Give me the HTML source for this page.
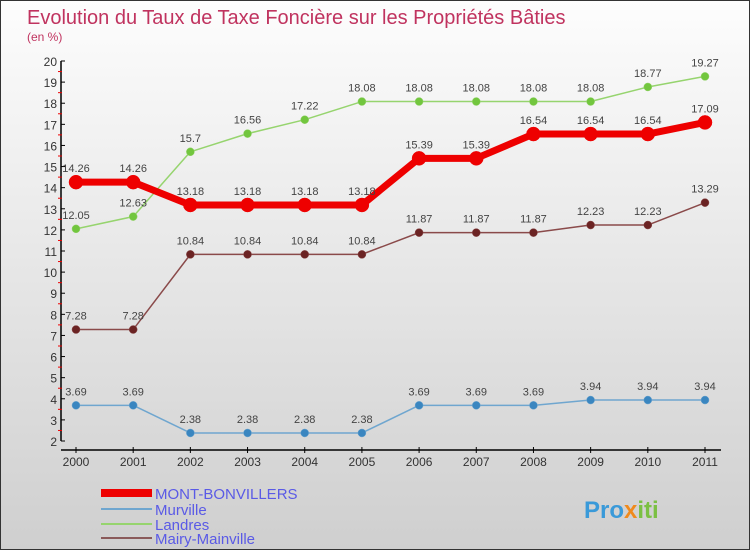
<!DOCTYPE html>
<html><head><meta charset="utf-8"><style>
body{margin:0}
#c{width:748px;height:548px;border:1px solid #333;background:linear-gradient(#fdfdfd,#cfcfcf);position:relative;overflow:hidden;font-family:"Liberation Sans",sans-serif}
</style></head><body>
<div id="c">
<svg id="s" width="748" height="548" xmlns="http://www.w3.org/2000/svg">
<text x="26" y="23" font-size="20" fill="#c0335f">Evolution du Taux de Taxe Foncière sur les Propriétés Bâties</text>
<text x="26" y="40" font-size="12" fill="#c0335f">(en %)</text>
<text x="270" y="540" font-size="12" fill="#000" opacity="0"></text>
<g id="legend">
<rect x="100" y="488" width="51" height="8" fill="#e00"/>
<text x="154" y="498" font-size="15" fill="#5a5ae6">MONT-BONVILLERS</text>
<rect x="100" y="507" width="51" height="2" fill="#6fa6cf"/>
<text x="154" y="514" font-size="15" fill="#5a5ae6">Murville</text>
<rect x="100" y="522" width="51" height="2" fill="#96d46e"/>
<text x="154" y="529" font-size="15" fill="#5a5ae6">Landres</text>
<rect x="100" y="536" width="51" height="2" fill="#8a5a5a"/>
<text x="154" y="543" font-size="15" fill="#5a5ae6">Mairy-Mainville</text>
</g>
<text x="583" y="517" font-size="24" font-weight="bold" fill="#3a9ad9">Pro<tspan fill="#f08a1c">x</tspan><tspan fill="#7bc043">iti</tspan></text>
</svg>
</div>
<script>
const years=[2000,2001,2002,2003,2004,2005,2006,2007,2008,2009,2010,2011];
const yTicks=[2,3,4,5,6,7,8,9,10,11,12,13,14,15,16,17,18,19,20];
const montBonvillers=[14.26,14.26,13.18,13.18,13.18,13.18,15.39,15.39,16.54,16.54,16.54,17.09];
const murville=[3.69,3.69,2.38,2.38,2.38,2.38,3.69,3.69,3.69,3.94,3.94,3.94];
const landres=[12.05,12.63,15.7,16.56,17.22,18.08,18.08,18.08,18.08,18.08,18.77,19.27];
const mairy=[7.28,7.28,10.84,10.84,10.84,10.84,11.87,11.87,11.87,12.23,12.23,13.29];
const NS='http://www.w3.org/2000/svg';
const s=document.getElementById('s');
const X=i=>75+i*(629/11);
const Y=v=>440-(v-2)*(380/18);
function el(t,a,p){const e=document.createElementNS(NS,t);for(const k in a)e.setAttribute(k,a[k]);(p||s).appendChild(e);return e;}
const ax=el('g',{});


const yl=el('line',{x1:60,y1:Y(20),x2:60,y2:Y(2),stroke:'#000','stroke-width':1.5},ax);


const xl=el('line',{x1:60,y1:449,x2:720,y2:449,stroke:'#000','stroke-width':1.5},ax);


yTicks.forEach((v,i)=>{
 el('line',{x1:60,y1:Y(v),x2:64,y2:Y(v),stroke:'#000'},ax);
 if(i<yTicks.length-1)el('line',{x1:57,y1:Y(v+0.5),x2:61,y2:Y(v+0.5),stroke:'#e00'},ax);
 const t=el('text',{x:56,y:Y(v)+5,'font-size':12,fill:'#333','text-anchor':'end'},ax);
 
 
 t.textContent=v;
});
years.forEach((y,i)=>{
 el('line',{x1:X(i),y1:446,x2:X(i),y2:452,stroke:'#000'},ax);
 const t=el('text',{x:X(i),y:465,'font-size':12,fill:'#333','text-anchor':'middle'},ax);
 
 
 t.textContent=y;
});
function series(data,color,dot,w,r,name){
 const g=el('g',{});
 
 
 el('polyline',{points:data.map((v,i)=>X(i)+','+Y(v)).join(' '),fill:'none',stroke:color,'stroke-width':w,'stroke-linejoin':'round'},g);
 data.forEach((v,i)=>{
  const c=el('circle',{cx:X(i),cy:Y(v),r:r,fill:dot,stroke:color,'stroke-width':0.5},g);
  
  
  const t=el('text',{x:X(i),y:Y(v)-10,'font-size':11,fill:'#444','text-anchor':'middle'},g);
  
  
  t.textContent=v;
 });
}
series(murville,'#6fa6cf','#3a86c0',1.5,4,'murville-series');
series(landres,'#96d46e','#72c63e',1.5,4,'landres-series');
series(mairy,'#8a4a4a','#6b2323',1.5,4,'mairy-mainville-series');
series(montBonvillers,'#ee0000','#ee0000',7,7,'mont-bonvillers-series');
</script>
</body></html>
